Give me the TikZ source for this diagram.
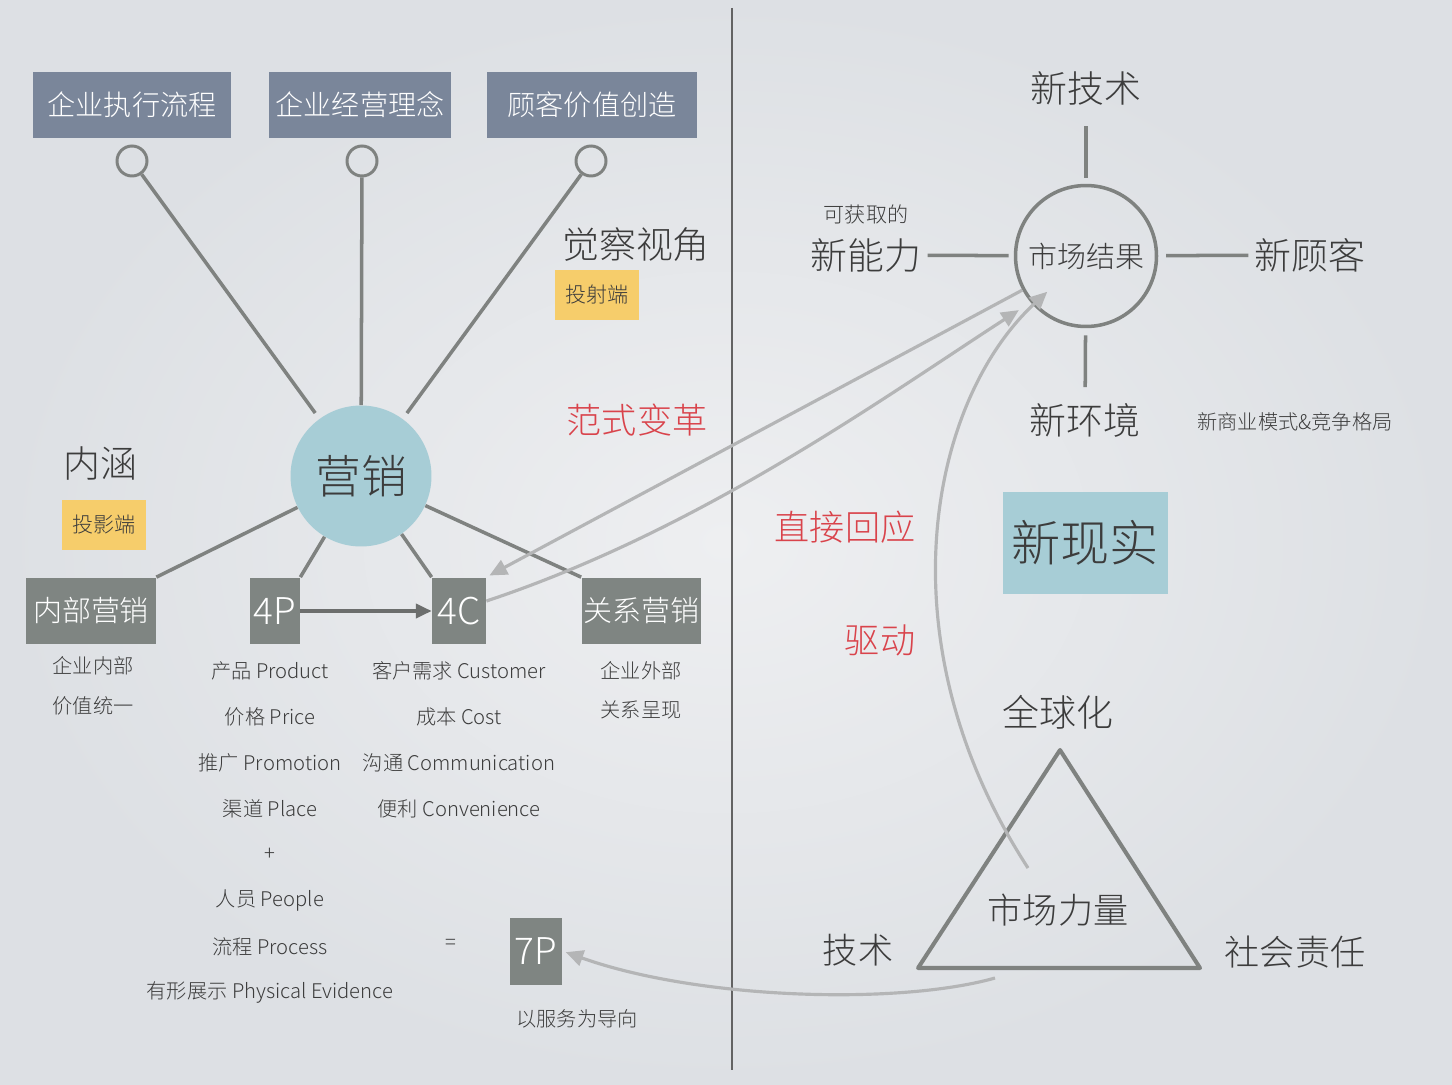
\documentclass[tikz,border=0pt]{standalone}
\usepackage{fontspec}
\setmainfont{Noto Sans CJK SC}[UprightFont=* Light]
\usetikzlibrary{arrows.meta}
\definecolor{bgin}{HTML}{EEEFF1}
\definecolor{bgout}{HTML}{DDE0E4}
\definecolor{slate}{HTML}{7A869A}
\definecolor{stone}{HTML}{7F8582}
\definecolor{aqua}{HTML}{A7CDD6}
\definecolor{sun}{HTML}{F6CD6B}
\definecolor{rust}{HTML}{D9434B}
\definecolor{ink}{HTML}{3C3C3C}
\definecolor{wire}{HTML}{7F8280}
\definecolor{mist}{HTML}{B4B5B6}
\begin{document}
\begin{tikzpicture}[x=0.02cm,y=-0.02cm,
	topbox/.style={fill=slate,text=white,minimum height=1.34cm,inner sep=0pt,font=\fontsize{16}{20}\selectfont},
	botbox/.style={fill=stone,text=white,minimum height=1.34cm,inner sep=0pt,font=\fontsize{16.5}{20}\selectfont},
	tag/.style={fill=sun,text=ink,minimum width=1.68cm,minimum height=1cm,inner sep=0pt,font=\fontsize{12}{14}\selectfont},
	ring/.style={circle,draw=wire,line width=1.7pt,minimum size=0.6cm,inner sep=0pt},
	spoke/.style={draw=wire,line width=2pt},
	feed/.style={draw=mist,line width=1.8pt,-{Triangle[length=10pt,width=9pt]}},
	note/.style={text=ink,font=\fontsize{11.5}{13}\selectfont},
	big/.style={text=ink,font=\fontsize{21}{24}\selectfont},
	alert/.style={text=rust,font=\fontsize{20}{24}\selectfont}]
	\useasboundingbox (0,0) rectangle (1452,1084);
	\shade[inner color=bgin,outer color=bgout] (0,0) rectangle (1452,1084);
	\draw[ink!80,line width=0.8pt] (732,8) -- (732,1070);
	\node[topbox,minimum width=3.96cm] (flow) at (132,105) {企业执行流程};
	\node[topbox,minimum width=3.66cm] (idea) at (360,105) {企业经营理念};
	\node[topbox,minimum width=4.2cm] (value) at (592,105) {顾客价值创造};
	\node[ring] (r1) at (132,161) {};
	\node[ring] (r2) at (362,161) {};
	\node[ring] (r3) at (591,161) {};
	\node[circle,fill=aqua,minimum size=2.82cm,text=ink,font=\fontsize{26}{30}\selectfont] (mkt) at (361,476) {营销};
	\draw[spoke,shorten >=4pt] (r1) -- (mkt);
	\draw[spoke] (r2) -- (mkt);
	\draw[spoke,shorten >=4pt] (r3) -- (mkt);
	\node[big] (mean) at (100,463) {内涵};
	\node[tag] (shadow) at (104,525) {投影端};
	\node[big] (view) at (636,245) {觉察视角};
	\node[tag] (cast) at (597,295) {投射端};
	\node[alert] (shift) at (637,420) {范式变革};
	\node[botbox,minimum width=2.6cm] (inner) at (91,611) {内部营销};
	\node[botbox,minimum width=1cm,font=\fontsize{21}{24}\selectfont] (p4) at (275,611) {4P};
	\node[botbox,minimum width=1.08cm,font=\fontsize{21}{24}\selectfont] (c4) at (459,611) {4C};
	\node[botbox,minimum width=2.38cm] (rel) at (641,611) {关系营销};
	\node[botbox,minimum width=1.04cm,font=\fontsize{21}{24}\selectfont] (p7) at (536,951) {7P};
	\draw[spoke] (mkt) -- (inner.north east);
	\draw[spoke] (mkt) -- (p4.north east);
	\draw[spoke] (mkt) -- (c4.north west);
	\draw[spoke] (mkt) -- (rel.north west);
	\draw[spoke,draw=wire!85!black,-{Triangle[length=9pt,width=8pt]}] (p4) -- (c4);
	\node[note] (in1) at (93,666) {企业内部};
	\node[note] (in2) at (93,706) {价值统一};
	\node[note] (out1) at (641,671) {企业外部};
	\node[note] (out2) at (641,710) {关系呈现};
	\foreach \t [count=\i from 0] in {产品 Product,价格 Price,推广 Promotion,渠道 Place,+,人员 People,流程 Process,有形展示 Physical Evidence}
		\node[note] (pp\i) at (270,671+45.9*\i) {\t};
	\foreach \t [count=\i from 0] in {客户需求 Customer,成本 Cost,沟通 Communication,便利 Convenience}
		\node[note] (cc\i) at (459,671+45.9*\i) {\t};
	\node[note] (eq) at (451,944) {=};
	\node[note] (serve) at (577,1019) {以服务为导向};
	\node[circle,draw=wire,line width=2pt,minimum size=2.82cm,text=ink,font=\fontsize{16.5}{20}\selectfont] (res) at (1086,256) {市场结果};
	\node[big] (tech) at (1086,88) {新技术};
	\node[big] (abil) at (866,255) {新能力};
	\node[note,font=\fontsize{12}{14}\selectfont] (gain) at (866,214) {可获取的};
	\node[big] (cust) at (1310,255) {新顾客};
	\node[big] (env) at (1085,420) {新环境};
	\node[note] (biz) at (1295,422) {新商业模式\&竞争格局};
	\draw[spoke,shorten <=3.4pt,shorten >=8.5pt] (res) -- (tech);
	\draw[spoke,shorten >=3pt] (abil) -- (res);
	\draw[spoke,shorten <=4.5pt] (res) -- (cust);
	\draw[spoke,shorten <=4pt,shorten >=5.5pt] (res) -- (env);
	\node[fill=aqua,minimum width=3.3cm,minimum height=2.04cm,text=ink,font=\fontsize{28}{32}\selectfont] (real) at (1085,543) {新现实};
	\node[alert] (reply) at (845,527) {直接回应};
	\node[alert] (drive) at (880,640) {驱动};
	\coordinate (apex) at (1060,750);
	\coordinate (tl) at (918,968);
	\coordinate (tr) at (1200,968);
	\draw[draw=wire,line width=2.3pt,line join=round] (apex) -- (tl) -- (tr) -- cycle;
	\node[big] (glob) at (1058,712) {全球化};
	\node[big,font=\fontsize{20}{24}\selectfont] (force) at (1058,910) {市场力量};
	\node[big,font=\fontsize{20}{24}\selectfont] (skill) at (858,950) {技术};
	\node[big,font=\fontsize{20}{24}\selectfont] (duty) at (1295,952) {社会责任};
	\coordinate (pull) at (1028,868);
	\coordinate (push) at (995,978);
	\draw[feed,shorten >=2pt] (res) -- (c4.north east);
	\draw[feed,shorten >=8pt] (c4.20) .. controls (700,530) and (880,400) .. (res.220);
	\draw[feed,shorten >=30pt] (pull) .. controls (880,640) and (930,400) .. (res.center);
	\draw[feed,shorten >=2pt] (push) .. controls (900,1005) and (700,1000) .. (p7.east);
\end{tikzpicture}
\end{document}
